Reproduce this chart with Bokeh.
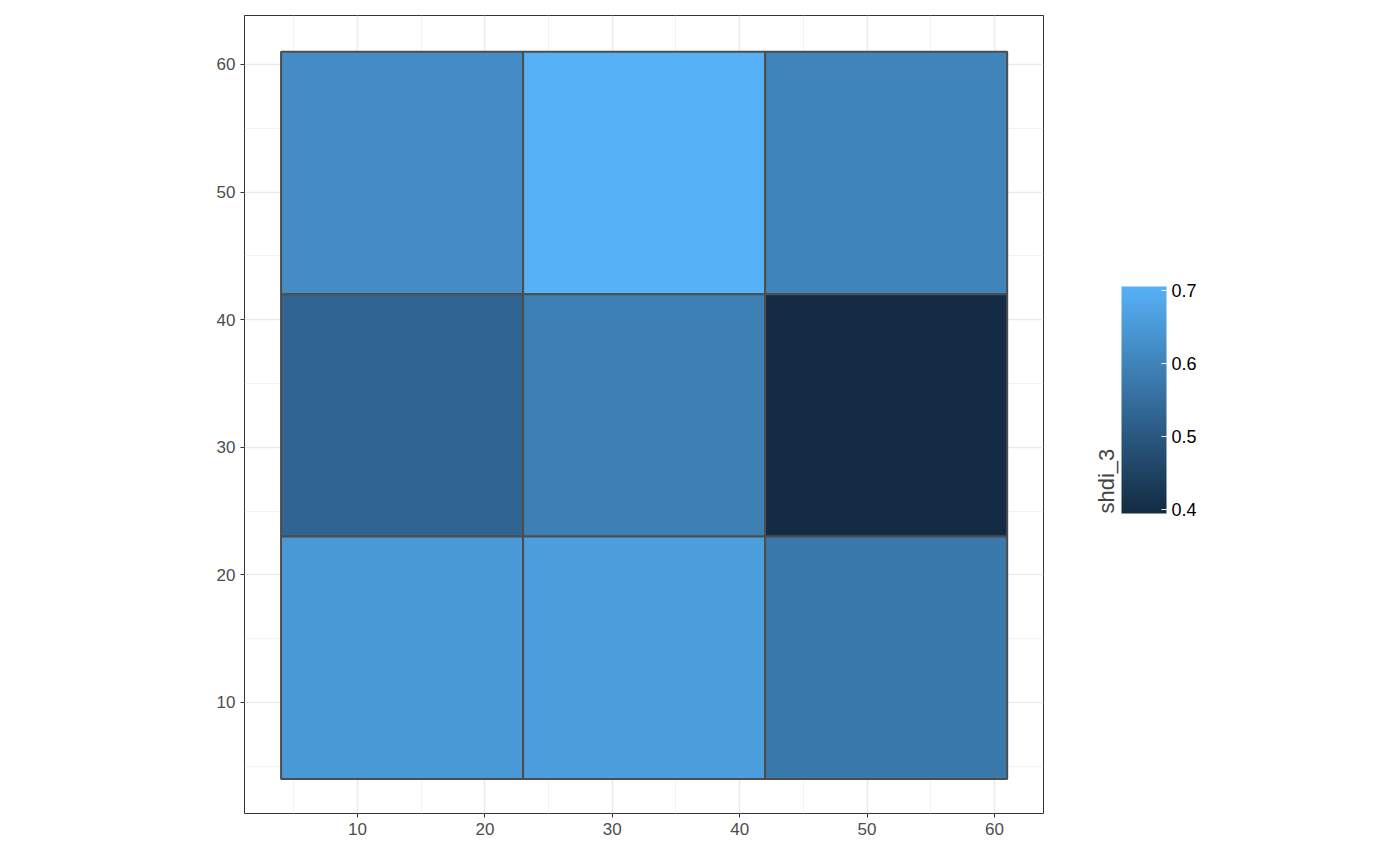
import numpy as np
from bokeh.plotting import figure
from bokeh.models import ColumnDataSource, LinearColorMapper, ColorBar, FixedTicker
from bokeh.embed import file_html
from bokeh.resources import INLINE

# cell edges and shdi_3 values (row-major, top row first)
x_left = [4, 23, 42, 4, 23, 42, 4, 23, 42]
x_right = [23, 42, 61, 23, 42, 61, 23, 42, 61]
y_bottom = [42, 42, 42, 23, 23, 23, 4, 4, 4]
y_top = [61, 61, 61, 42, 42, 42, 23, 23, 23]
shdi_3 = [0.62, 0.705, 0.60, 0.53, 0.59, 0.395, 0.65, 0.66, 0.575]
axis_ticks = [10, 20, 30, 40, 50, 60]
legend_ticks = [0.4, 0.5, 0.6, 0.7]

def grad(c1, c2, n=256):
    a = np.array([int(c1[i:i + 2], 16) for i in (1, 3, 5)], float)
    b = np.array([int(c2[i:i + 2], 16) for i in (1, 3, 5)], float)
    return ["#%02x%02x%02x" % tuple(int(round(v)) for v in a + (b - a) * t) for t in np.linspace(0, 1, n)]

mapper = LinearColorMapper(palette=grad("#132B43", "#56B1F7"), low=0.395, high=0.705)

source = ColumnDataSource(dict(left=x_left, right=x_right, bottom=y_bottom, top=y_top, val=shdi_3))

p = figure(width=1384, height=849, frame_width=799, frame_height=798,
           x_range=(1.13, 63.85), y_range=(1.3, 63.84),
           output_backend="svg", toolbar_location=None,
           min_border_left=244, min_border_top=15, min_border_right=341, min_border_bottom=36)
p.background_fill_color = "white"
p.outline_line_color = "#333333"
p.outline_line_width = 1

p.quad(left="left", right="right", bottom="bottom", top="top", source=source,
       fill_color={"field": "val", "transform": mapper}, line_color="#4D4D4D", line_width=2)

for ax in (p.xaxis, p.yaxis):
    ax.ticker = FixedTicker(ticks=axis_ticks, minor_ticks=[5, 15, 25, 35, 45, 55, 65])
    ax.axis_line_color = None
    ax.major_tick_line_color = "#333333"
    ax.major_tick_in = 0
    ax.major_tick_out = 4
    ax.minor_tick_line_color = None
    ax.major_label_text_font = "Liberation Sans"
    ax.major_label_text_font_size = "17px"
    ax.major_label_text_color = "#4D4D4D"
for g in (p.xgrid, p.ygrid):
    g.grid_line_color = "#EBEBEB"
    g.grid_line_width = 1.5
    g.minor_grid_line_color = "#F3F3F3"

cb = ColorBar(color_mapper=mapper, width=45, height=227, location=(45, 300),
              ticker=FixedTicker(ticks=legend_ticks), title="shdi_3",
              title_text_font="Liberation Sans", title_text_font_size="22px",
              title_text_font_style="normal", title_standoff=6,
              major_label_text_font="Liberation Sans", major_label_text_font_size="18px",
              major_label_text_color="black", major_tick_line_color="white",
              major_tick_in=5, major_tick_out=0, bar_line_color=None,
              background_fill_color=None, border_line_color=None, padding=0, margin=0)
p.add_layout(cb, "right")

open("out.html", "w").write(file_html(p, INLINE))
